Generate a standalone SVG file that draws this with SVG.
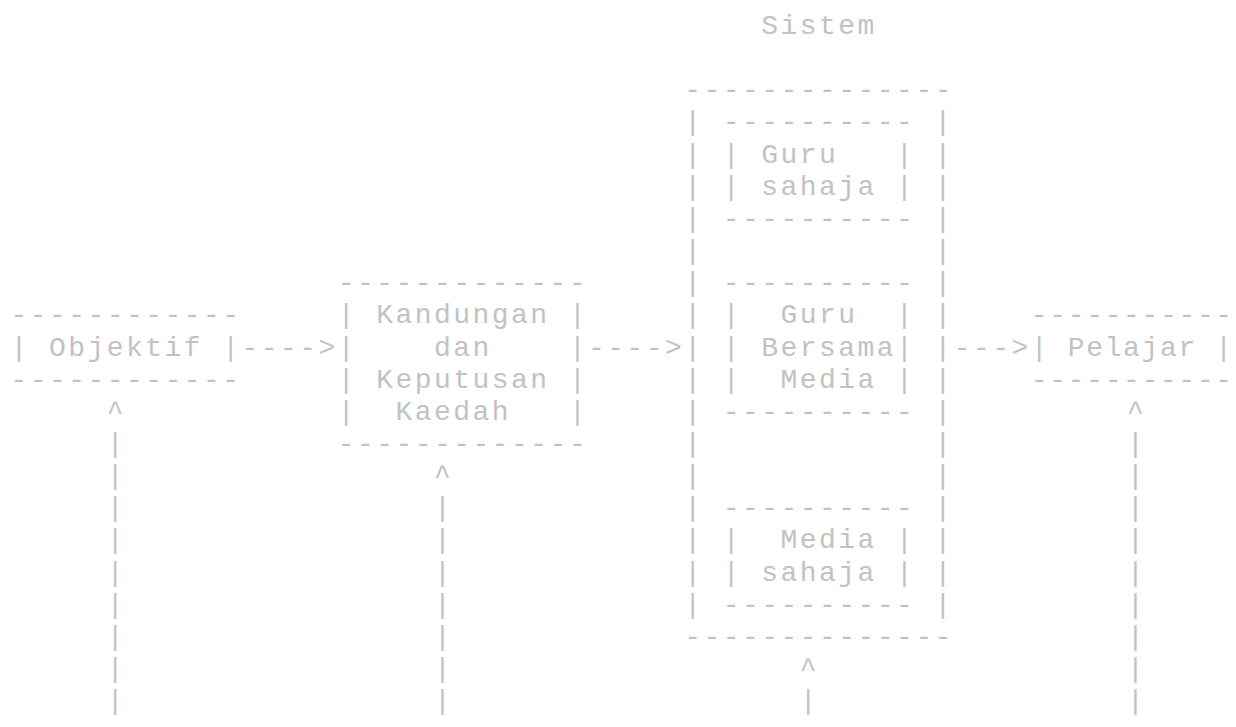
<svg xmlns="http://www.w3.org/2000/svg" width="1236" height="727" viewBox="0 0 1236 727" xml:space="preserve">
<style>
text { font-family: "Liberation Mono", "DejaVu Sans Mono", monospace; font-size: 28px; letter-spacing: 2.45px; fill: #c2c2c2; white-space: pre; }
#pelajar text { letter-spacing: 1.65px; }
</style>
<rect width="1236" height="727" fill="#ffffff"/>
<g id="sistem-title">
<text x="761.35" y="33.9">Sistem</text>
</g>
<g id="objektif">
<text x="10.6" y="323.3">------------</text>
<text x="10.6" y="355.5">| Objektif |</text>
<text x="10.6" y="387.6">------------</text>
</g>
<g id="kandungan">
<text x="337.85" y="291.2">-------------</text>
<text x="337.85" y="323.3">| Kandungan |</text>
<text x="337.85" y="355.5">|    dan    |</text>
<text x="337.85" y="387.6">| Keputusan |</text>
<text x="337.85" y="419.8">|  Kaedah   |</text>
<text x="337.85" y="452.0">-------------</text>
</g>
<g id="sistem">
<text x="684.35" y="98.2">--------------</text>
<text x="684.35" y="130.4">|</text><text x="934.6" y="130.4">|</text>
<text x="684.35" y="162.5">|</text><text x="934.6" y="162.5">|</text>
<text x="684.35" y="194.7">|</text><text x="934.6" y="194.7">|</text>
<text x="684.35" y="226.8">|</text><text x="934.6" y="226.8">|</text>
<text x="684.35" y="259.0">|</text><text x="934.6" y="259.0">|</text>
<text x="684.35" y="291.2">|</text><text x="934.6" y="291.2">|</text>
<text x="684.35" y="323.3">|</text><text x="934.6" y="323.3">|</text>
<text x="684.35" y="355.5">|</text><text x="934.6" y="355.5">|</text>
<text x="684.35" y="387.6">|</text><text x="934.6" y="387.6">|</text>
<text x="684.35" y="419.8">|</text><text x="934.6" y="419.8">|</text>
<text x="684.35" y="452.0">|</text><text x="934.6" y="452.0">|</text>
<text x="684.35" y="484.1">|</text><text x="934.6" y="484.1">|</text>
<text x="684.35" y="516.3">|</text><text x="934.6" y="516.3">|</text>
<text x="684.35" y="548.4">|</text><text x="934.6" y="548.4">|</text>
<text x="684.35" y="580.6">|</text><text x="934.6" y="580.6">|</text>
<text x="684.35" y="612.8">|</text><text x="934.6" y="612.8">|</text>
<text x="684.35" y="644.9">--------------</text>
<g id="guru-sahaja">
<text x="722.85" y="130.4">----------</text>
<text x="722.85" y="162.5">| Guru   |</text>
<text x="722.85" y="194.7">| sahaja |</text>
<text x="722.85" y="226.8">----------</text>
</g>
<g id="guru-bersama-media">
<text x="722.85" y="291.2">----------</text>
<text x="722.85" y="323.3">|  Guru  |</text>
<text x="722.85" y="355.5">| Bersama|</text>
<text x="722.85" y="387.6">|  Media |</text>
<text x="722.85" y="419.8">----------</text>
</g>
<g id="media-sahaja">
<text x="722.85" y="516.3">----------</text>
<text x="722.85" y="548.4">|  Media |</text>
<text x="722.85" y="580.6">| sahaja |</text>
<text x="722.85" y="612.8">----------</text>
</g>
</g>
<g id="pelajar">
<text x="1030.85" y="323.3">-----------</text>
<text x="1030.85" y="355.5">| Pelajar |</text>
<text x="1030.85" y="387.6">-----------</text>
</g>
<g id="connectors">
<text x="241.6" y="355.5">----&gt;</text>
<text x="588.1" y="355.5">----&gt;</text>
<text x="953.85" y="355.5">---&gt;</text>
<text x="106.85" y="419.8">^</text>
<text x="106.85" y="452.0">|</text>
<text x="106.85" y="484.1">|</text>
<text x="106.85" y="516.3">|</text>
<text x="106.85" y="548.4">|</text>
<text x="106.85" y="580.6">|</text>
<text x="106.85" y="612.8">|</text>
<text x="106.85" y="644.9">|</text>
<text x="106.85" y="677.1">|</text>
<text x="106.85" y="709.2">|</text>
<text x="434.1" y="484.1">^</text>
<text x="434.1" y="516.3">|</text>
<text x="434.1" y="548.4">|</text>
<text x="434.1" y="580.6">|</text>
<text x="434.1" y="612.8">|</text>
<text x="434.1" y="644.9">|</text>
<text x="434.1" y="677.1">|</text>
<text x="434.1" y="709.2">|</text>
<text x="1127.1" y="419.8">^</text>
<text x="1127.1" y="452.0">|</text>
<text x="1127.1" y="484.1">|</text>
<text x="1127.1" y="516.3">|</text>
<text x="1127.1" y="548.4">|</text>
<text x="1127.1" y="580.6">|</text>
<text x="1127.1" y="612.8">|</text>
<text x="1127.1" y="644.9">|</text>
<text x="1127.1" y="677.1">|</text>
<text x="1127.1" y="709.2">|</text>
<text x="799.85" y="677.1">^</text>
<text x="799.85" y="709.2">|</text>
</g>
</svg>
